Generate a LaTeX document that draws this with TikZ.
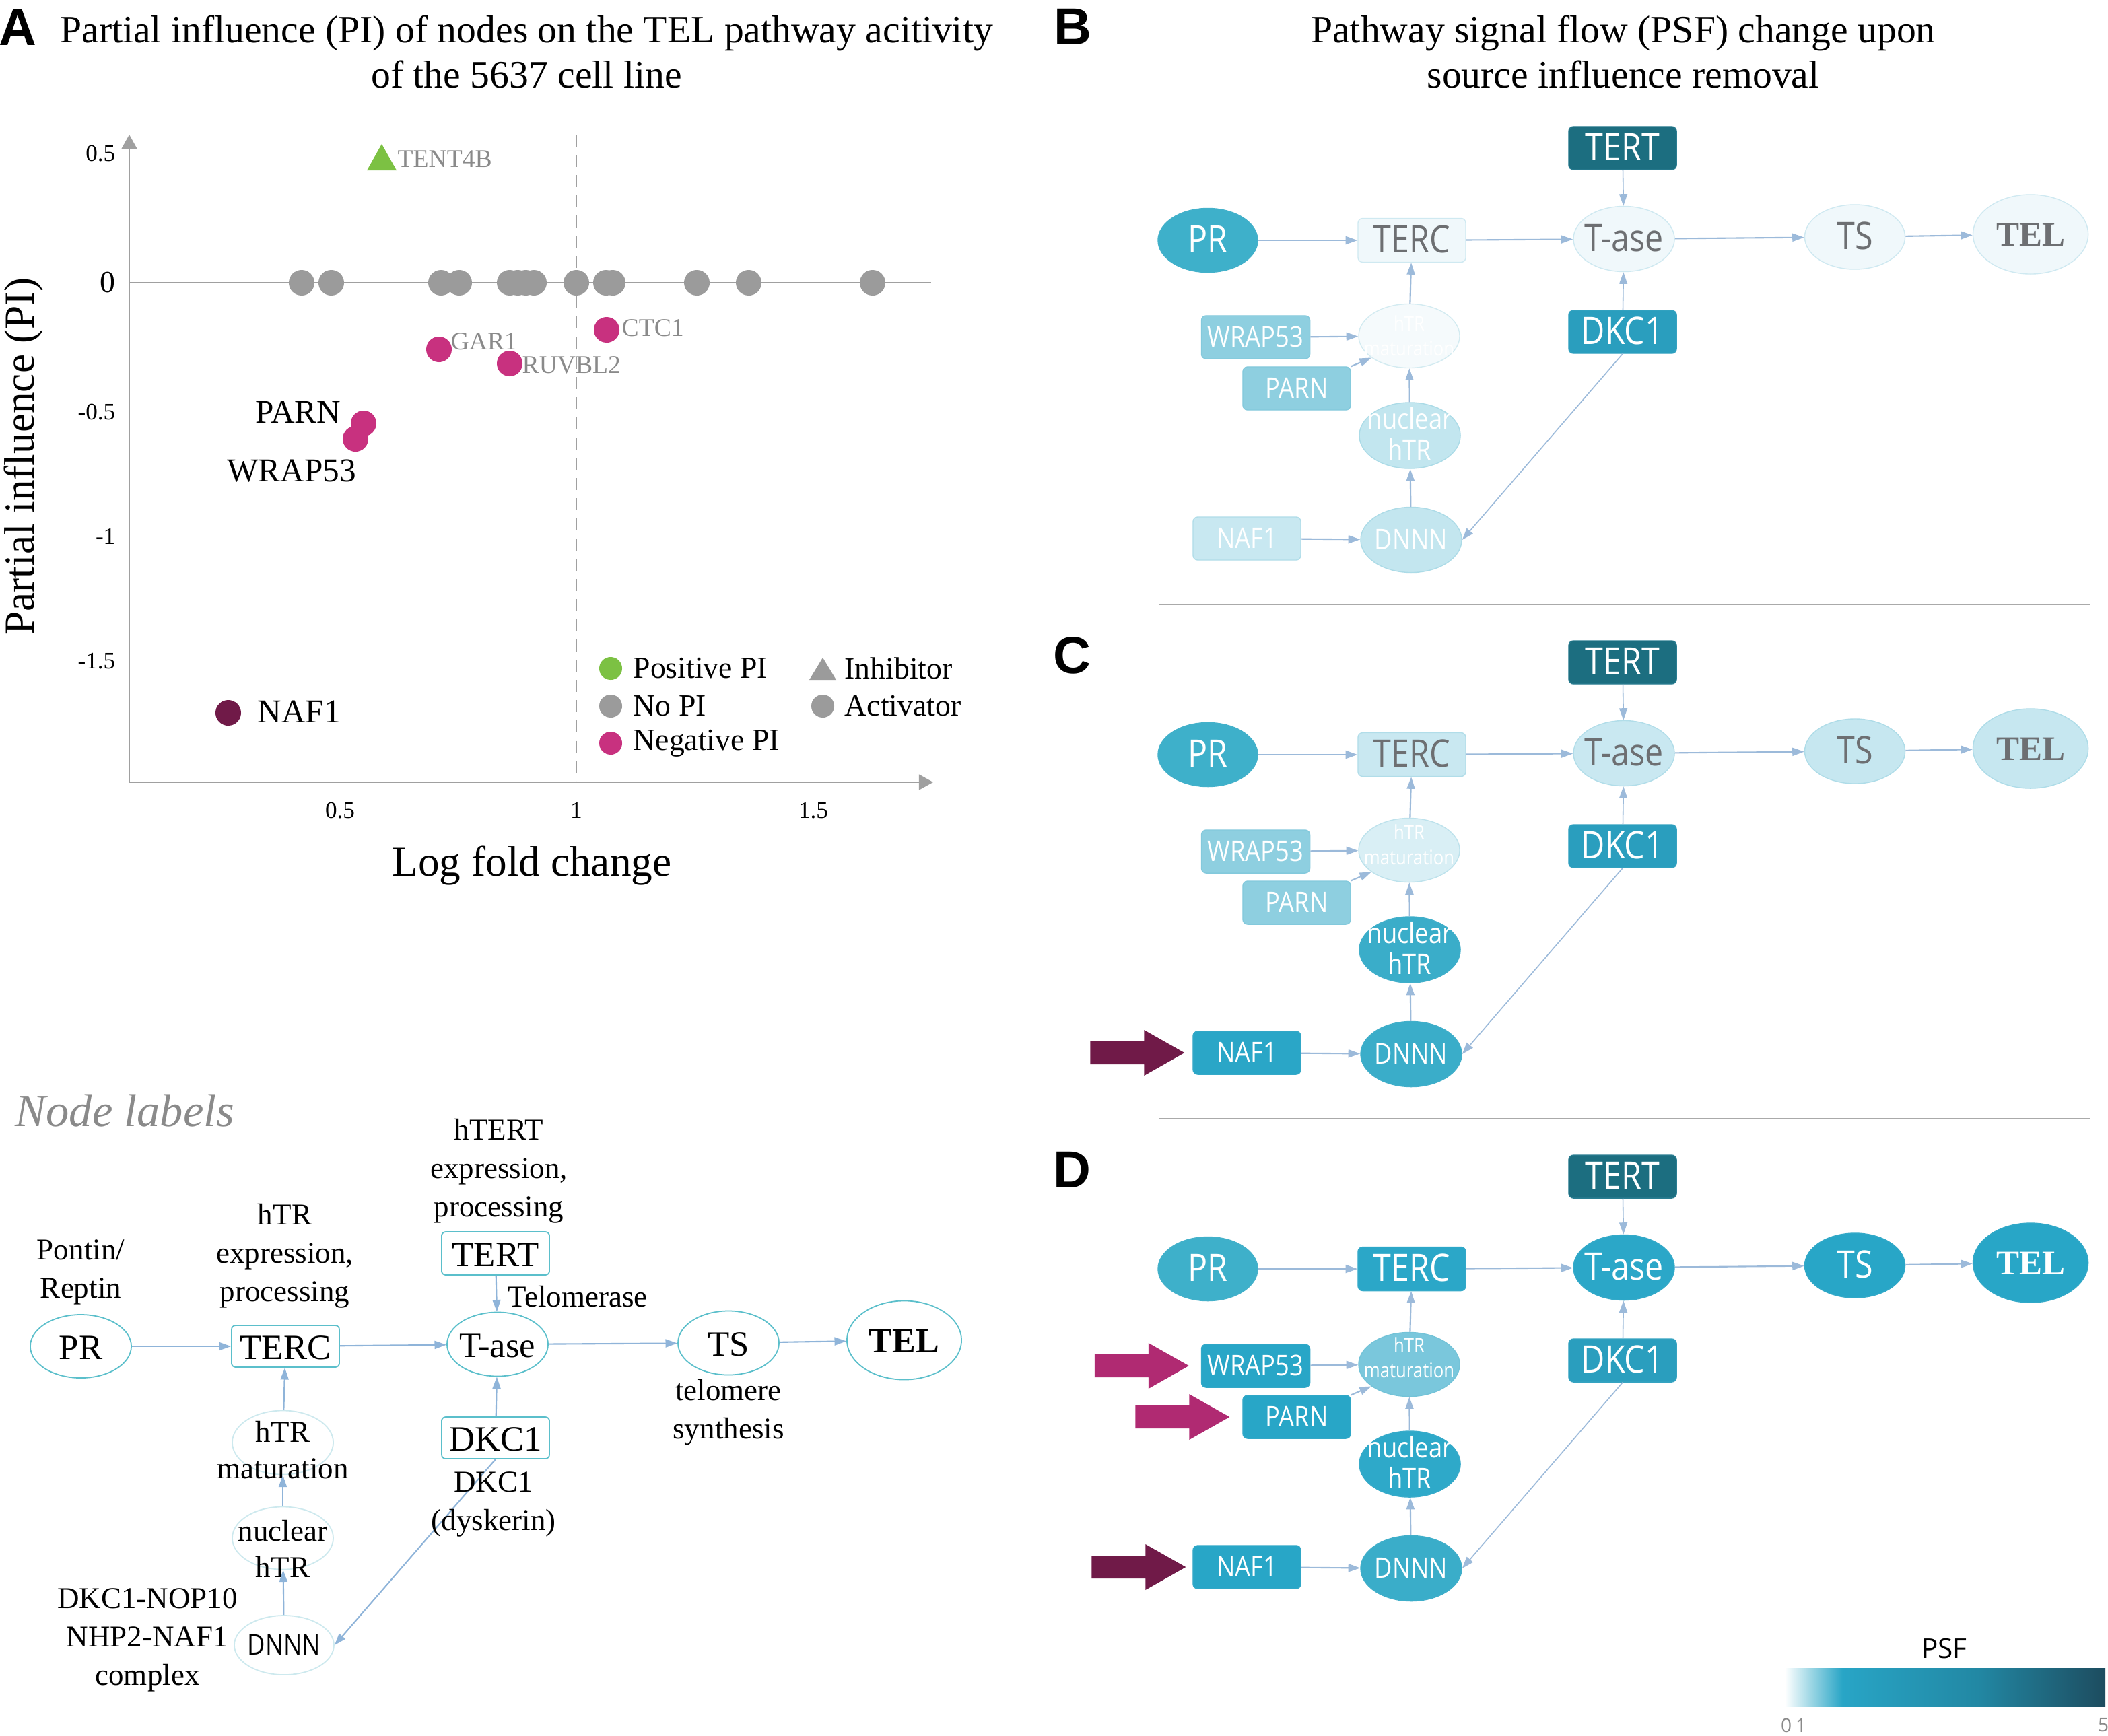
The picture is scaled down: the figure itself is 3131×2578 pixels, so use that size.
\documentclass[tikz,border=0pt]{standalone}
\usepackage{fontspec}
\setmainfont{Liberation Serif}
\newfontfamily\osans[FakeStretch=0.86]{Open Sans}
\newfontfamily\osansn{Open Sans}
\newfontfamily\lsans{Liberation Sans}
\usetikzlibrary{arrows.meta,shapes.geometric,calc}

\definecolor{edgec}{HTML}{9CBADA}
\definecolor{ledgec}{HTML}{8FB4D9}
\definecolor{tealB}{HTML}{5AB4CC}
\definecolor{txg}{HTML}{6D6F72}
\definecolor{cPR}{HTML}{3EB0CA}
\definecolor{cTERT}{HTML}{1C6E80}
\definecolor{cDKC}{HTML}{2A9EBE}
\definecolor{mag}{HTML}{C8317F}
\definecolor{magA}{HTML}{B02A72}
\definecolor{plum}{HTML}{701A48}
\definecolor{grn}{HTML}{7CC143}
\definecolor{gdot}{HTML}{9B9B9B}
\definecolor{glab}{HTML}{8A8A8A}
\definecolor{axc}{HTML}{A0A0A0}
\definecolor{nlc}{HTML}{5BBFCB}
\definecolor{nlf}{HTML}{CDE9EE}
\definecolor{sepc}{HTML}{AAAAAA}
\definecolor{psfA}{HTML}{9ED7E5}
\definecolor{psfB}{HTML}{28A5C6}
\definecolor{psfC}{HTML}{2288A4}
\definecolor{psfD}{HTML}{1D4C5F}
% panel B
\colorlet{BPR}{cPR}
\definecolor{BTERC}{HTML}{F0F8FB}
\definecolor{BTASE}{HTML}{F0F8FB}
\definecolor{BTS}{HTML}{F0F8FB}
\definecolor{BTEL}{HTML}{F0F8FB}
\definecolor{BHM}{HTML}{F5FAFC}
\definecolor{BWR}{HTML}{8ECFE0}
\definecolor{BPA}{HTML}{8ECFE0}
\definecolor{BNUC}{HTML}{C2E6EF}
\definecolor{BNAF}{HTML}{C8E8F1}
\definecolor{BDN}{HTML}{C3E6EF}
\colorlet{BtA}{txg}
% panel C
\colorlet{CPR}{cPR}
\definecolor{CTERC}{HTML}{C9E8F1}
\definecolor{CTASE}{HTML}{C9E8F1}
\definecolor{CTS}{HTML}{C6E7F0}
\definecolor{CTEL}{HTML}{C6E7F0}
\definecolor{CHM}{HTML}{D9EFF5}
\definecolor{CWR}{HTML}{8ECFE0}
\definecolor{CPA}{HTML}{8ECFE0}
\definecolor{CNUC}{HTML}{3AADC9}
\definecolor{CNAF}{HTML}{2AA6C7}
\definecolor{CDN}{HTML}{3AADC9}
\colorlet{CtA}{txg}
% panel D
\colorlet{DPR}{cPR}
\definecolor{DTERC}{HTML}{2BA7C8}
\definecolor{DTASE}{HTML}{2BA7C8}
\definecolor{DTS}{HTML}{28A6C7}
\definecolor{DTEL}{HTML}{28A6C7}
\definecolor{DHM}{HTML}{7AC7DC}
\definecolor{DWR}{HTML}{28A6C7}
\definecolor{DPA}{HTML}{28A6C7}
\definecolor{DNUC}{HTML}{2EA9C9}
\definecolor{DNAF}{HTML}{28A6C7}
\definecolor{DDN}{HTML}{3AADC9}
\colorlet{DtA}{white}

\pgfdeclarehorizontalshading{psfbar}{100bp}{color(0bp)=(white); color(25bp)=(white); color(29bp)=(psfA); color(34bp)=(psfB); color(55bp)=(psfC); color(75bp)=(psfD); color(100bp)=(psfD)}

% zero-size centred node text
\newcommand{\nt}[2][0pt]{\smash{\makebox[0pt]{\raisebox{\dimexpr-0.36em-#1\relax}{\begin{tabular}{@{}c@{}}#2\end{tabular}}}}}

\newcommand{\fatarrow}[2]{\fill[#1] #2 -- ++(-60,-34) -- ++(0,17) -- ++(-80,0) -- ++(0,34) -- ++(80,0) -- ++(0,17) -- cycle;}

\newcommand{\psfpanel}[3]{%
\begin{scope}[shift={(0,#2)}]
\node[pell,pcol=#1PR,bigf,text=white,minimum width=1.48cm,minimum height=0.95cm] (#1pr) at (1794,357) {\nt{PR}};
\node[prect,pcol=#1TERC,bigf,text=#1tA,minimum height=0.65cm] (#1terc) at (2097,357) {\nt{TERC}};
\node[pell,pcol=#1TASE,bigf,text=#1tA,minimum width=1.5cm,minimum height=0.97cm] (#1tase) at (2412,355) {\nt{T-ase}};
\node[pell,pcol=#1TS,bigf,text=#1tA,minimum width=1.49cm,minimum height=0.96cm] (#1ts) at (2755,352) {\nt{TS}};
\node[pell,pcol=#1TEL,font=\rmfamily\bfseries\fontsize{14.5pt}{17pt}\selectfont,text=#1tA,minimum width=1.71cm,minimum height=1.18cm] (#1tel) at (3016,348) {\nt{TEL}};
\node[prect,pcol=cTERT,bigf,text=white] (#1tert) at (2410,220) {\nt{TERT}};
\node[prect,pcol=cDKC,bigf,text=white] (#1dkc) at (2410,493) {\nt{DKC1}};
\node[pell,pcol=#1HM,font=\osans\fontsize{8.5pt}{10.5pt}\selectfont,text=white,minimum width=1.5cm,minimum height=0.95cm] (#1hm) at (2093,499) {\nt[#3]{hTR\\maturation}};
\node[prect,pcol=#1WR,smf,text=white,minimum width=1.61cm] (#1wr) at (1865,501) {\nt{WRAP53}};
\node[prect,pcol=#1PA,smf,text=white] (#1pa) at (1926,577) {\nt{PARN}};
\node[pell,pcol=#1NUC,font=\osans\fontsize{12pt}{13.1pt}\selectfont,text=white,minimum width=1.5cm,minimum height=0.98cm] (#1nuc) at (2094,647) {\nt{nuclear\\hTR}};
\node[prect,pcol=#1NAF,smf,text=white] (#1naf) at (1852,800) {\nt{NAF1}};
\node[pell,pcol=#1DN,smf,text=white,minimum width=1.5cm,minimum height=0.97cm] (#1dn) at (2096,802) {\nt{DNNN}};
\draw[pedge] (#1pr) -- (#1terc);
\draw[pedge] (#1terc) -- (#1tase);
\draw[pedge] (#1tase) -- (#1ts);
\draw[pedge] (#1ts) -- (#1tel);
\draw[pedge,line width=0.45pt] (#1tert) -- (#1tase);
\draw[pedge,line width=0.45pt] (#1dkc) -- (#1tase);
\draw[pedge] (#1hm) -- (#1terc);
\draw[pedge] (#1wr) -- (#1hm);
\draw[pedge] (#1pa.north east) -- (#1hm.210);
\draw[pedge] (#1nuc) -- (#1hm);
\draw[pedge] (#1dn) -- (#1nuc);
\draw[pedge] (#1naf) -- (#1dn);
\draw[pedge,line width=0.45pt] (#1dkc.south) -- (#1dn.east);
\end{scope}}

\begin{document}
\begin{tikzpicture}[x=0.01cm,y=-0.01cm,
 pedge/.style={draw=edgec, line width=0.6pt, -{Triangle[length=5pt,width=3.4pt]}},
 ledge/.style={draw=ledgec, line width=0.6pt, -{Triangle[length=5pt,width=3.4pt]}},
 pell/.style={ellipse, inner sep=0pt, line width=0.4pt},
 prect/.style={rectangle, rounded corners=0.07cm, inner sep=0pt, line width=0.4pt, minimum width=1.6cm, minimum height=0.64cm},
 pcol/.style={fill=#1, draw=#1!78!tealB},
 bigf/.style={font=\osans\fontsize{16pt}{19pt}\selectfont},
 smf/.style={font=\osans\fontsize{12pt}{14pt}\selectfont},
 lnode/.style={draw=nlc, line width=0.5pt, fill=white, inner sep=0pt, font=\fontsize{15pt}{18pt}\selectfont},
 lfaint/.style={draw=nlf, line width=0.5pt, inner sep=0pt, font=\fontsize{12.8pt}{15.4pt}\selectfont},
 ann/.style={align=center, inner sep=0pt, font=\fontsize{12.8pt}{16.2pt}\selectfont},
 letter/.style={font=\lsans\bfseries\fontsize{22pt}{26pt}\selectfont, inner sep=0pt},
 ttl/.style={align=center, inner sep=0pt, font=\fontsize{16.4pt}{18.8pt}\selectfont},
 axlab/.style={inner sep=0pt, font=\fontsize{18pt}{21pt}\selectfont},
 tick/.style={inner sep=0pt, font=\fontsize{10pt}{12pt}\selectfont},
 glabel/.style={inner sep=0pt, anchor=west, text=glab, font=\fontsize{10.7pt}{12.8pt}\selectfont},
 blabel/.style={inner sep=0pt, font=\fontsize{14pt}{16.8pt}\selectfont},
 leg/.style={inner sep=0pt, anchor=west, font=\fontsize{13pt}{15.6pt}\selectfont},
 axis/.style={draw=axc, line width=0.6pt}
]
\useasboundingbox (0,0) rectangle (3131,2578);
\fill[white] (0,0) rectangle (3131,2578);

% ---------- panel letters and titles
\node[letter] (lA) at (26,41) {A};
\node[letter] (lB) at (1593,40) {B};
\node[letter] (lC) at (1592,974) {C};
\node[letter] (lD) at (1592,1738) {D};
\node[ttl] (tA) at (782,77) {Partial influence (PI) of nodes on the TEL pathway acitivity\\of the 5637 cell line};
\node[ttl] (tB) at (2411,77) {Pathway signal flow (PSF) change upon\\source influence removal};

% ---------- panel A plot
\draw[axis] (192,420) -- (1383,420);
\draw[axc, line width=0.5pt, dash pattern=on 0.18cm off 0.12cm] (856,200) -- (856,1162);
\draw[axis, -{Triangle[length=6pt,width=6.5pt]}] (192,1162) -- (1386,1162);
\draw[axis, -{Triangle[length=6pt,width=6.5pt]}] (192,1162) -- (192,200);

\node[tick, anchor=east] (y05) at (172,228) {0.5};
\node[inner sep=0pt, font=\fontsize{13pt}{15pt}\selectfont] (y0) at (160,420) {0};
\node[tick, anchor=east] (ym05) at (172,612) {-0.5};
\node[tick, anchor=east] (ym1) at (172,797) {-1};
\node[tick, anchor=east] (ym15) at (172,982) {-1.5};
\node[tick] (x05) at (505,1204) {0.5};
\node[tick] (x1) at (856,1204) {1};
\node[tick] (x15) at (1208,1204) {1.5};
\node[axlab, rotate=90] (ylab) at (35,678) {Partial influence (PI)};
\node[axlab] (xlab) at (790,1286) {Log fold change};

\foreach \px in {448,492,655,682,757,769,781,793,856,900,910,1035,1112,1296}
  \fill[gdot] (\px,420) circle[radius=0.19cm];

\fill[grn] (545,253) -- (589,253) -- (567,214) -- cycle;
\fill[mag] (652,519) circle[radius=0.19cm];
\fill[mag] (757,540) circle[radius=0.19cm];
\fill[mag] (901,490) circle[radius=0.19cm];
\fill[mag] (528,652) circle[radius=0.19cm];
\fill[mag] (540,629) circle[radius=0.19cm];
\fill[plum] (339,1059) circle[radius=0.19cm];

\node[glabel] (lTENT) at (590,236) {TENT4B};
\node[glabel] (lGAR) at (669,507) {GAR1};
\node[glabel] (lRUV) at (775,542) {RUVBL2};
\node[glabel] (lCTC) at (923,487) {CTC1};
\node[blabel, anchor=east] (lPARN) at (507,612) {PARN};
\node[blabel] (lWRAP) at (433,700) {WRAP53};
\node[blabel, anchor=west] (lNAF) at (382,1057) {NAF1};

% legend
\fill[grn] (907,993) circle[radius=0.17cm];
\fill[gdot] (907,1049) circle[radius=0.17cm];
\fill[mag] (907,1104) circle[radius=0.17cm];
\fill[gdot] (1202,1010) -- (1242,1010) -- (1222,977) -- cycle;
\fill[gdot] (1222,1049) circle[radius=0.17cm];
\node[leg] (gPos) at (940,993) {Positive PI};
\node[leg] (gNo) at (940,1049) {No PI};
\node[leg] (gNeg) at (940,1104) {Negative PI};
\node[leg] (gInh) at (1254,993) {Inhibitor};
\node[leg] (gAct) at (1254,1049) {Activator};

% ---------- node labels panel
\node[anchor=west, inner sep=0pt, text=glab, font=\itshape\fontsize{19.5pt}{23pt}\selectfont] (nlt) at (22,1650) {Node labels};

\node[lnode, ellipse, minimum width=1.5cm, minimum height=0.94cm] (Lpr) at (120,2000) {\nt{PR}};
\node[lnode, rectangle, rounded corners=0.06cm, minimum width=1.6cm, minimum height=0.62cm] (Lterc) at (424,2000) {\nt{TERC}};
\node[lnode, ellipse, minimum width=1.5cm, minimum height=0.95cm] (Ltase) at (739,1997) {\nt{T-ase}};
\node[lnode, ellipse, minimum width=1.5cm, minimum height=0.95cm] (Lts) at (1082,1995) {\nt{TS}};
\node[lnode, ellipse, minimum width=1.7cm, minimum height=1.17cm, font=\bfseries\fontsize{14.8pt}{17pt}\selectfont] (Ltel) at (1343,1991) {\nt{TEL}};
\node[lnode, rectangle, rounded corners=0.06cm, minimum width=1.6cm, minimum height=0.64cm] (Ltert) at (736,1862) {\nt{TERT}};
\node[lnode, rectangle, rounded corners=0.06cm, minimum width=1.6cm, minimum height=0.62cm] (Ldkc) at (736,2136) {\nt{DKC1}};
\node[lfaint, ellipse, minimum width=1.5cm, minimum height=0.95cm] (Lhm) at (420,2143) {\nt[2.85pt]{hTR\\maturation}};
\node[lfaint, ellipse, minimum width=1.5cm, minimum height=0.93cm] (Lnuc) at (420,2285) {\nt[4.3pt]{nuclear\\hTR}};
\node[lfaint, ellipse, minimum width=1.48cm, minimum height=0.88cm, font=\osans\fontsize{12pt}{14pt}\selectfont] (Ldn) at (422,2444) {\nt{DNNN}};

\draw[ledge] (Lpr) -- (Lterc);
\draw[ledge] (Lterc) -- (Ltase);
\draw[ledge] (Ltase) -- (Lts);
\draw[ledge] (Lts) -- (Ltel);
\draw[ledge] (Ltert) -- (Ltase);
\draw[ledge] (Ldkc) -- (Ltase);
\draw[ledge] (Lhm) -- (Lterc);
\draw[ledge] (Lnuc) -- (Lhm);
\draw[ledge] (Ldn) -- (Lnuc);
\draw[ledge] (Ldkc.south) -- (Ldn.east);

\node[ann] (aPR) at (120,1890) {Pontin/\\Reptin};
\node[ann] (aTERC) at (423,1866) {hTR\\expression,\\processing};
\node[ann] (aTERT) at (741,1740) {hTERT\\expression,\\processing};
\node[ann, anchor=west] (aTase) at (754,1926) {Telomerase};
\node[ann] (aTS) at (1082,2098) {telomere\\synthesis};
\node[ann] (aDKC) at (733,2235) {DKC1\\(dyskerin)};
\node[ann] (aDN) at (219,2436) {DKC1-NOP10\\NHP2-NAF1\\complex};

% ---------- PSF panels
\draw[sepc, line width=0.6pt] (1722,898) -- (3104,898);
\draw[sepc, line width=0.6pt] (1722,1662) -- (3104,1662);

\psfpanel{B}{0}{0pt}
\psfpanel{C}{764}{-2.3pt}
\psfpanel{D}{1528}{-3pt}

\fatarrow{plum}{($(Cnaf.west)+(-12,0)$)}
\fatarrow{magA}{($(Dwr.west)+(-18,0)$)}
\fatarrow{magA}{($(Dpa.west)+(-19,0)$)}
\fatarrow{plum}{($(Dnaf.west)+(-10,0)$)}

% ---------- colour bar
\shade[shading=psfbar] (2651,2478) rectangle (3127,2535);
\node[inner sep=0pt, font=\osansn\fontsize{11.5pt}{14pt}\selectfont] (psf) at (2888,2449) {PSF};
\node[inner sep=0pt, text=glab, font=\osansn\fontsize{8pt}{10pt}\selectfont] (s0) at (2653,2563) {0};
\node[inner sep=0pt, text=glab, font=\osansn\fontsize{8pt}{10pt}\selectfont] (s1) at (2675,2563) {1};
\node[inner sep=0pt, text=glab, font=\osansn\fontsize{8pt}{10pt}\selectfont] (s5) at (3124,2563) {5};
\end{tikzpicture}
\end{document}
